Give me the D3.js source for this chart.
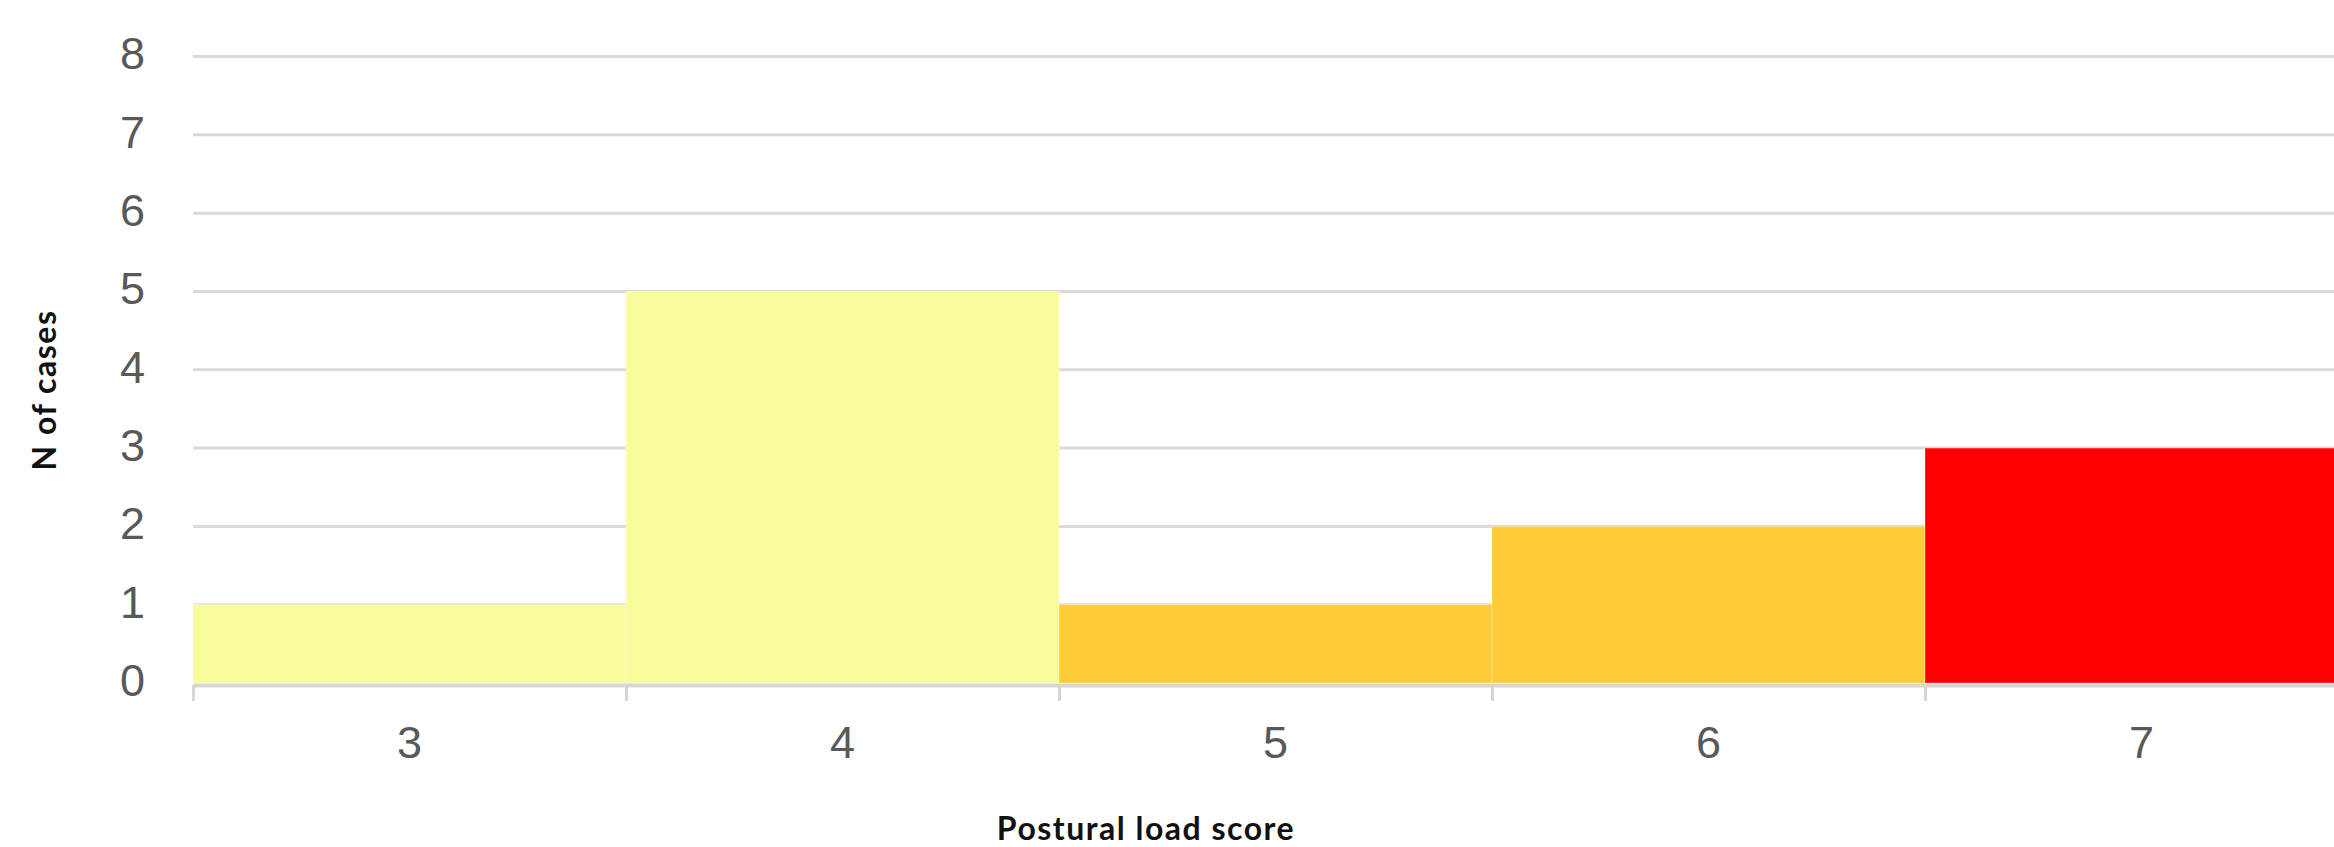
<!DOCTYPE html>
<html>
<head>
<meta charset="utf-8">
<script src="https://cdn.jsdelivr.net/npm/d3@7"></script>
<style>
  html, body { margin: 0; padding: 0; background: #ffffff; }
  svg { display: block; }
</style>
</head>
<body>
<svg id="chart" width="2334" height="847"></svg>
<script>
// Histogram of postural load scores
const scores = [3, 4, 5, 6, 7];
const cases = [1, 5, 1, 2, 3];
const barColors = ["#F8FC9B", "#F8FC9B", "#FFCB38", "#FFCB38", "#FE0000"];
const yTicks = [0, 1, 2, 3, 4, 5, 6, 7, 8];
const xTitle = "Postural load score";
const yTitle = "N of cases";

const W = 2334, H = 847;
const left = 193, binWidth = 433;
const yTop = 56.5, yBottom = 683;

const svg = d3.select("#chart");

const x = d3.scaleLinear()
  .domain([d3.min(scores) - 0.5, d3.max(scores) + 0.5])
  .range([left, left + binWidth * scores.length]);

const y = d3.scaleLinear()
  .domain([0, d3.max(yTicks)])
  .range([yBottom, yTop]);

// horizontal gridlines
svg.append("g")
  .selectAll("line")
  .data(yTicks.filter(d => d > 0))
  .join("line")
  .attr("x1", left)
  .attr("x2", W)
  .attr("y1", d => y(d))
  .attr("y2", d => y(d))
  .attr("stroke", "#dadada")
  .attr("stroke-width", 3);

// bars, one per score bin
svg.append("g")
  .selectAll("rect")
  .data(scores)
  .join("rect")
  .attr("x", d => x(d - 0.5))
  .attr("width", d => x(d + 0.5) - x(d - 0.5))
  .attr("y", (d, i) => y(cases[i]))
  .attr("height", (d, i) => y(0) - y(cases[i]))
  .attr("fill", (d, i) => barColors[i])
  .attr("stroke", "rgba(255,255,255,0.35)")
  .attr("stroke-width", 1);

// x axis: baseline, bin boundary ticks, centred labels
const xAxis = d3.axisBottom(x)
  .tickValues(scores.map(d => d - 0.5).concat([d3.max(scores) + 0.5]))
  .tickSize(16)
  .tickSizeOuter(0)
  .tickFormat("");

const gx = svg.append("g")
  .attr("transform", `translate(0,${y(0) + 2})`)
  .call(xAxis);
gx.select(".domain").attr("stroke", "#d6d6d6").attr("stroke-width", 4);
gx.selectAll(".tick line").attr("stroke", "#d6d6d6").attr("stroke-width", 3);

svg.append("g")
  .selectAll("text")
  .data(scores)
  .join("text")
  .attr("x", d => x(d))
  .attr("y", 758)
  .attr("text-anchor", "middle")
  .attr("font-family", "'Liberation Sans', Arial, sans-serif")
  .attr("font-size", 45)
  .attr("fill", "#595959")
  .text(d => d);

// y axis labels
const yAxis = d3.axisLeft(y)
  .tickValues(yTicks)
  .tickSize(0)
  .tickPadding(0)
  .tickFormat(d3.format("d"));

const gy = svg.append("g")
  .attr("transform", "translate(145,-2)")
  .call(yAxis);
gy.select(".domain").remove();
gy.selectAll(".tick text")
  .attr("font-family", "'Liberation Sans', Arial, sans-serif")
  .attr("font-size", 45)
  .attr("fill", "#595959");

// axis titles
svg.append("text")
  .attr("x", 1146)
  .attr("y", 840)
  .attr("text-anchor", "middle")
  .attr("font-family", "Lato, 'Noto Sans', sans-serif")
  .attr("font-weight", 700)
  .attr("font-size", 32)
  .attr("letter-spacing", 1.5)
  .attr("fill", "#111111")
  .text(xTitle);

svg.append("text")
  .attr("transform", "translate(56,390) rotate(-90)")
  .attr("text-anchor", "middle")
  .attr("font-family", "Lato, 'Noto Sans', sans-serif")
  .attr("font-weight", 700)
  .attr("font-size", 32)
  .attr("letter-spacing", 1.5)
  .attr("fill", "#111111")
  .text(yTitle);
</script>
</body>
</html>
